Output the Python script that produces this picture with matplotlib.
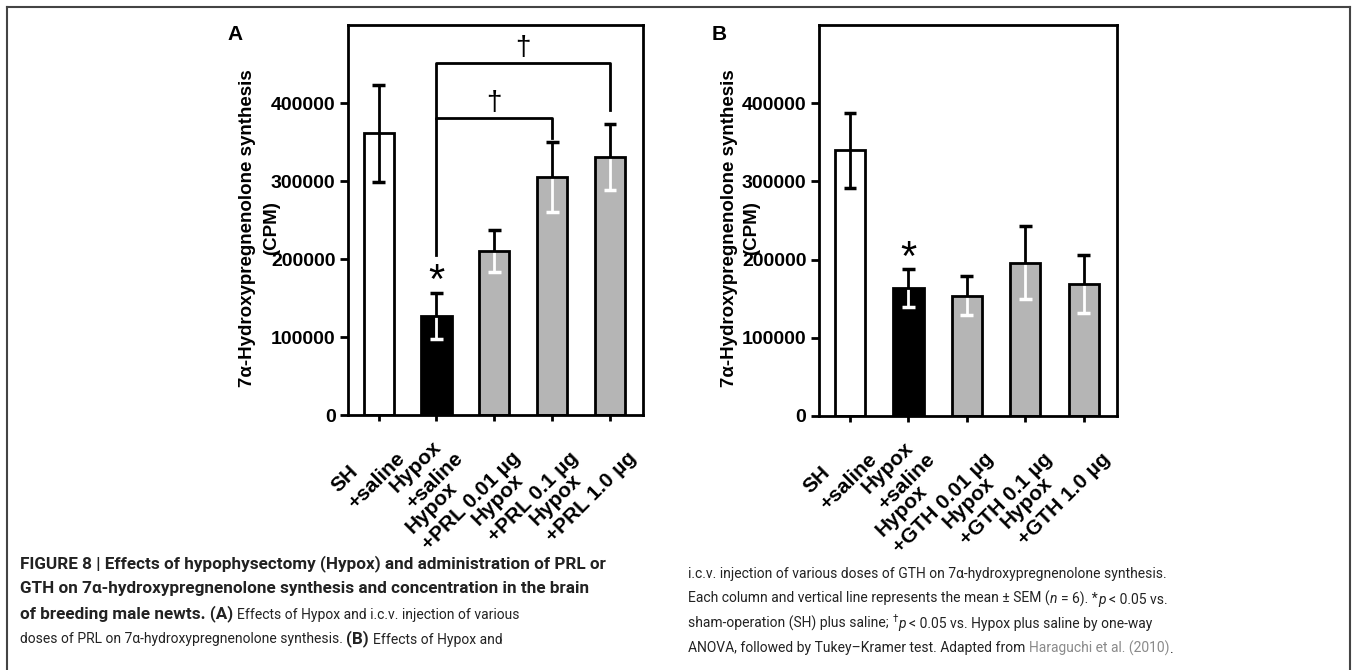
import numpy as np
import matplotlib
matplotlib.use('Agg')
import matplotlib.pyplot as plt
from matplotlib.lines import Line2D
from matplotlib.transforms import Bbox

# ---------------- data ----------------
labels_A = ["SH\n+saline", "Hypox\n+saline", "Hypox\n+PRL 0.01 µg",
            "Hypox\n+PRL 0.1 µg", "Hypox\n+PRL 1.0 µg"]
means_A = [361000, 127000, 210000, 305000, 331000]
sems_A = [62000, 29000, 27000, 45000, 42000]

labels_B = ["SH\n+saline", "Hypox\n+saline", "Hypox\n+GTH 0.01 µg",
            "Hypox\n+GTH 0.1 µg", "Hypox\n+GTH 1.0 µg"]
means_B = [340000, 164000, 154000, 196000, 169000]
sems_B = [48000, 24000, 25000, 47000, 37000]

yticks = [0, 100000, 200000, 300000, 400000]
ytick_labels = ["0", "100000", "200000", "300000", "400000"]
ylabel_1 = "7α-Hydroxypregnenolone synthesis"
ylabel_2 = "(CPM)"

plt.rcParams['font.family'] = ['Liberation Sans', 'DejaVu Sans']

W, H = 1354, 670
fig = plt.figure(figsize=(W / 100, H / 100), dpi=100)


def fx(px):
    return px / W


def fy(py):
    return 1 - py / H


axA = fig.add_axes([fx(348), fy(415), fx(643) - fx(348), fy(25) - fy(415)])
axB = fig.add_axes([fx(819), fy(416), fx(1117) - fx(819), fy(25) - fy(416)])

bar_colors = ['white', 'black', '#b5b5b5', '#b5b5b5', '#b5b5b5']


def draw_panel(ax, labels, means, sems):
    x = np.arange(len(means))
    ax.bar(x, means, width=0.52, color=bar_colors, edgecolor='none', zorder=2)
    cw = 0.11
    for xi, m, s, c in zip(x, means, sems, bar_colors):
        ax.vlines(xi, m, m + s, color='black', lw=2, zorder=3)
        ax.hlines(m + s, xi - cw, xi + cw, color='black', lw=2.5, zorder=3)
        lc = 'black' if c == 'white' else 'white'
        ax.vlines(xi, m - s, m, color=lc, lw=2, zorder=3)
        ax.hlines(m - s, xi - cw, xi + cw, color=lc, lw=2.5, zorder=3)
    ax.bar(x, means, width=0.52, facecolor='none', edgecolor='black',
           linewidth=2, zorder=4)
    ax.set_xlim(-0.53, 4.57)
    ax.set_ylim(0, 500000)
    ax.set_yticks(yticks)
    ax.set_yticklabels(ytick_labels, fontsize=14, fontweight='bold')
    ax.set_xticks(x)
    ax.set_xticklabels(labels, fontsize=15, fontweight='bold', rotation=45,
                       ha='right', va='top', rotation_mode='anchor',
                       multialignment='left', linespacing=1.33)
    for sp in ax.spines.values():
        sp.set_linewidth(2)
    ax.tick_params(axis='y', direction='out', length=6, width=2, pad=3)
    ax.tick_params(axis='x', direction='out', length=4, width=2, pad=8)


draw_panel(axA, labels_A, means_A, sems_A)
draw_panel(axB, labels_B, means_B, sems_B)

# y-axis titles (two separate lines)
for x1, x2 in [(248, 272), (729, 752)]:
    fig.text(fx(x1), fy(228), ylabel_1, rotation=90, ha='center', va='center',
             fontsize=13.5, fontweight='bold')
    fig.text(fx(x2), fy(228), ylabel_2, rotation=90, ha='center', va='center',
             fontsize=13.5, fontweight='bold')

# significance marks panel A
axA.plot([1, 1, 3, 3], [205000, 381000, 381000, 355000], color='black', lw=2, zorder=5)
axA.plot([1, 1, 4, 4], [381000, 451000, 451000, 391000], color='black', lw=2, zorder=5)
axA.text(2.0, 400000, '†', ha='center', va='center', fontsize=20, zorder=6)
axA.text(2.5, 471000, '†', ha='center', va='center', fontsize=20, zorder=6)
axA.text(1, 170000, '*', ha='center', va='center', fontsize=30, zorder=6)
axB.text(1, 201000, '*', ha='center', va='center', fontsize=30, zorder=6)

fig.text(fx(227), fy(25), 'A', fontsize=15, fontweight='bold', ha='left', va='top')
fig.text(fx(712), fy(25), 'B', fontsize=15, fontweight='bold', ha='left', va='top')

# frame
fcol = '#444444'
fig.add_artist(Line2D([fx(7), fx(1350)], [fy(7), fy(7)], color=fcol, lw=1.5))
fig.add_artist(Line2D([fx(7), fx(7)], [fy(7), 0], color=fcol, lw=1.5))
fig.add_artist(Line2D([fx(1350), fx(1350)], [fy(7), 0], color=fcol, lw=1.5))

# ---------------- caption ----------------
cap_family = 'Roboto'
renderer = fig.canvas.get_renderer()

line1 = "FIGURE 8 | Effects of hypophysectomy (Hypox) and administration of PRL or"
rline1 = "i.c.v. injection of various doses of GTH on 7α-hydroxypregnenolone synthesis."
probe = fig.text(0, 0, line1, fontsize=12, fontweight='bold', family=cap_family)
wprobe = probe.get_window_extent(renderer).width
probe.remove()
cfs_b = 12 * 585 / wprobe
probe = fig.text(0, 0, rline1, fontsize=12, family=cap_family)
wprobe = probe.get_window_extent(renderer).width
probe.remove()
cfs_r = 12 * 476 / wprobe


def style_kw(st):
    fs = cfs_b if 'b' in st else cfs_r
    kw = dict(fontsize=fs, family=[cap_family, 'DejaVu Sans'], color='#222222')
    if 'b' in st:
        kw['fontweight'] = 'bold'
    if 'i' in st:
        kw['fontstyle'] = 'italic'
    if 'g' in st:
        kw['color'] = '#8a8a8a'
    if 's' in st:
        kw['fontsize'] = cfs_r * 0.7
    return kw


class BaselineAnchor:
    """Bbox whose bottom edge is the baseline of a text (for chaining pieces)."""

    def __init__(self, text, dy):
        self.text = text
        self.dy = dy

    def __call__(self, renderer):
        bb = self.text.get_window_extent(renderer)
        _, _, descent = renderer.get_text_width_height_descent(
            'lp', self.text._fontproperties, ismath=False)
        y0 = bb.y0 + descent - self.dy * fig.dpi / 72.0
        return Bbox.from_extents(bb.x0, y0, bb.x1, y0 + 1)


def cap_line(xp, yp, pieces):
    prev = None
    for txt, st, space in pieces:
        kw = style_kw(st)
        dy = 0
        if prev is None:
            t = fig.text(fx(xp), fy(yp), txt, ha='left', va='baseline', **kw)
        else:
            gap = cfs_r * 0.26 if space else 0.3
            dy = cfs_r * 0.42 if 's' in st else 0
            t = axA.annotate(txt, xy=(1, 0), xycoords=prev,
                             xytext=(gap, dy), textcoords='offset points',
                             ha='left', va='baseline', annotation_clip=False, **kw)
        prev = BaselineAnchor(t, dy)


L = [
    [("FIGURE 8 | Effects of hypophysectomy (Hypox) and administration of PRL or", 'b', False)],
    [("GTH on 7α-hydroxypregnenolone synthesis and concentration in the brain", 'b', False)],
    [("of breeding male newts. (A)", 'b', False),
     ("Effects of Hypox and i.c.v. injection of various", '', True)],
    [("doses of PRL on 7α-hydroxypregnenolone synthesis.", '', False),
     ("(B)", 'b', True), ("Effects of Hypox and", '', True)],
]
R = [
    [("i.c.v. injection of various doses of GTH on 7α-hydroxypregnenolone synthesis.", '', False)],
    [("Each column and vertical line represents the mean ± SEM (", '', False),
     ("n", 'i', False), ("= 6). *", '', True), ("p", 'i', False),
     ("< 0.05 vs.", '', True)],
    [("sham-operation (SH) plus saline;", '', False), ("†", 's', True),
     ("p", 'i', False), ("< 0.05 vs. Hypox plus saline by one-way", '', True)],
    [("ANOVA, followed by Tukey–Kramer test. Adapted from", '', False),
     ("Haraguchi et al. (2010)", 'g', True), (".", '', False)],
]
for i, pcs in enumerate(L):
    cap_line(20, 568 + 25 * i, pcs)
for i, pcs in enumerate(R):
    cap_line(688, 578 + 24.7 * i, pcs)

fig.savefig('out.png', dpi=100)
